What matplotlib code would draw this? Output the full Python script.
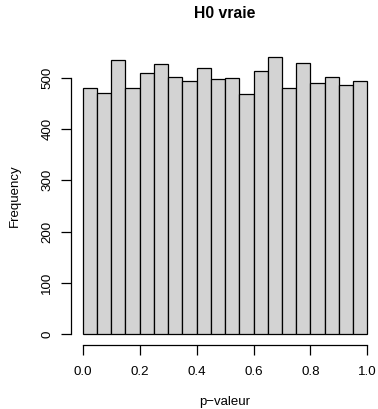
import matplotlib
matplotlib.use("Agg")
import matplotlib.pyplot as plt
import numpy as np

bin_edges = [round(0.05 * i, 2) for i in range(21)]
counts = [480, 471, 534, 479, 510, 526, 501, 494, 519, 498,
          500, 469, 514, 540, 480, 529, 490, 501, 485, 494]
xticks = [0.0, 0.2, 0.4, 0.6, 0.8, 1.0]
yticks = [0, 100, 200, 300, 400, 500]

plt.rcParams['font.family'] = ['Liberation Sans', 'DejaVu Sans']

fig = plt.figure(figsize=(3.78, 4.09), dpi=100)
W, H = 378, 409
ax = fig.add_axes([71.4 / W, 63.6 / H, 307.3 / W, 299.3 / H])

edges = np.array(bin_edges)
ax.bar(edges[:-1], counts, width=np.diff(edges), align='edge',
       color='#D3D3D3', edgecolor='black', linewidth=0.9)

ymax = max(counts)
ax.set_xlim(-0.04, 1.04)
ax.set_ylim(-0.04 * ymax, 1.04 * ymax)

for s in ['top', 'right']:
    ax.spines[s].set_visible(False)
ax.spines['left'].set_bounds(0, 500)
ax.spines['bottom'].set_bounds(0, 1)
ax.spines['left'].set_linewidth(0.9)
ax.spines['bottom'].set_linewidth(0.9)

ax.set_xticks(xticks)
ax.set_xticklabels([f"{v:.1f}" for v in xticks])
ax.set_yticks(yticks)
ax.set_yticklabels([str(v) for v in yticks], rotation=90, va='center')
ax.tick_params(axis='both', direction='out', length=7, width=0.9,
               labelsize=9.6, colors='black')
ax.tick_params(axis='x', pad=7.5)
ax.tick_params(axis='y', pad=6)

fig.text(0.5 * (82.7 + 367.3) / W, 1 - 14 / H, "H0 vraie", ha='center', va='center',
         fontsize=11.3, fontweight='bold')
fig.text(0.5 * (82.7 + 367.3) / W, 1 - 402 / H, "p\u2212valeur", ha='center', va='center',
         fontsize=9.5)
fig.text(15 / W, 1 - 196 / H, "Frequency", ha='center', va='center',
         fontsize=9.5, rotation=90)

fig.savefig("out.png", dpi=100, facecolor='white')
